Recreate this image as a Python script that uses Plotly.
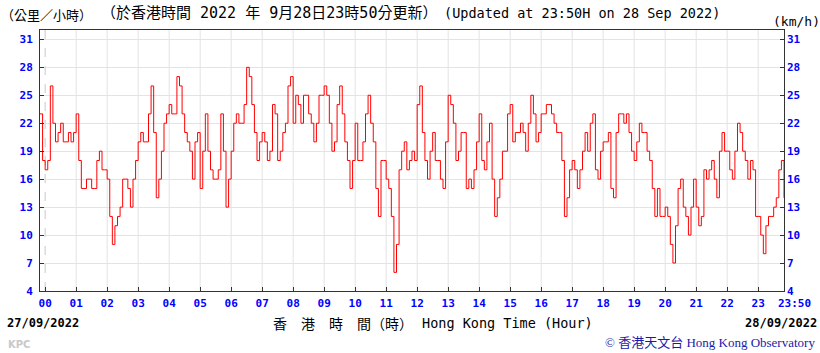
import plotly.graph_objects as go

# ---------------- data ----------------
hour_labels = [f"{h:02d}" for h in range(24)]
end_label = "23:50"
y_ticks = [4, 7, 10, 13, 16, 19, 22, 25, 28, 31]

start_min = -10   # 23:50 on 27/09/2022
step_min = 5

# 10-minute mean wind speed (km/h), sampled every 5 minutes
speed_prev = [23, 18]
speed_h00 = [17, 18, 26, 22, 20, 21, 22, 20, 20, 21, 20, 21]
speed_h01 = [23, 18, 15, 15, 16, 16, 15, 15, 18, 19, 17, 17]
speed_h02 = [16, 12, 9, 11, 12, 13, 16, 16, 15, 13, 16, 18]
speed_h03 = [20, 21, 20, 20, 23, 26, 21, 14, 16, 19, 22, 23]
speed_h04 = [24, 23, 23, 27, 26, 23, 21, 20, 19, 16, 20, 21]
speed_h05 = [15, 19, 23, 19, 17, 16, 16, 17, 23, 19, 13, 16]
speed_h06 = [19, 22, 23, 22, 22, 24, 28, 27, 24, 21, 18, 20]
speed_h07 = [21, 20, 18, 19, 24, 23, 18, 19, 21, 22, 26, 27]
speed_h08 = [22, 25, 24, 22, 25, 25, 23, 22, 20, 22, 25, 25]
speed_h09 = [26, 25, 22, 19, 20, 24, 26, 23, 20, 18, 15, 18]
speed_h10 = [22, 18, 18, 20, 23, 25, 22, 20, 15, 12, 18, 18]
speed_h11 = [16, 15, 12, 6, 9, 17, 19, 20, 17, 18, 19, 18]
speed_h12 = [24, 26, 21, 18, 16, 19, 21, 18, 18, 16, 15, 20]
speed_h13 = [25, 24, 22, 18, 19, 21, 21, 15, 16, 15, 17, 20]
speed_h14 = [23, 18, 17, 20, 22, 16, 12, 14, 16, 19, 19, 23]
speed_h15 = [24, 20, 21, 21, 22, 21, 19, 22, 25, 23, 20, 21]
speed_h16 = [23, 23, 24, 24, 23, 22, 21, 21, 18, 12, 14, 17]
speed_h17 = [18, 17, 15, 17, 19, 21, 19, 22, 23, 17, 16, 19]
speed_h18 = [20, 20, 21, 15, 14, 21, 23, 23, 22, 23, 21, 19]
speed_h19 = [18, 20, 22, 21, 21, 19, 18, 15, 12, 15, 12, 12]
speed_h20 = [13, 12, 9, 7, 11, 15, 16, 13, 12, 10, 13, 16]
speed_h21 = [13, 11, 12, 17, 16, 17, 18, 16, 14, 19, 21, 19]
speed_h22 = [19, 17, 16, 19, 22, 21, 19, 18, 16, 18, 17, 12]
speed_h23 = [12, 10, 8, 11, 12, 12, 13, 14, 17, 18, 14]

speeds = (speed_prev + speed_h00 + speed_h01 + speed_h02 + speed_h03 + speed_h04
          + speed_h05 + speed_h06 + speed_h07 + speed_h08 + speed_h09 + speed_h10
          + speed_h11 + speed_h12 + speed_h13 + speed_h14 + speed_h15 + speed_h16
          + speed_h17 + speed_h18 + speed_h19 + speed_h20 + speed_h21 + speed_h22
          + speed_h23)
times = [start_min + i * step_min for i in range(len(speeds))]
hour_ticks = [60 * h for h in range(24)]

# ---------------- layout ----------------
W, H = 820, 353
L, R, T, B = 40, 36, 30, 62
PW, PH = W - L - R, H - T - B

def pxx(x):
    return (x - L) / PW

def pxy(y):
    return (H - B - y) / PH

BLUE = "#0000ff"
GRID = "#e3e3e3"
FRAME = "#333333"
tick_font = dict(family="DejaVu Sans Mono", size=11, color=BLUE, weight="bold")

fig = go.Figure()
fig.add_trace(go.Scatter(x=times, y=speeds, mode="lines",
                         line=dict(color="#ff0000", width=1, shape="hv"),
                         hoverinfo="skip", showlegend=False))
fig.add_trace(go.Scatter(x=[times[0]], y=[speeds[0]], yaxis="y2", mode="markers",
                         marker=dict(opacity=0), hoverinfo="skip", showlegend=False))

shapes = []
for v in hour_ticks:
    shapes.append(dict(type="line", xref="x", yref="paper", x0=v, x1=v, y0=0, y1=1,
                       line=dict(color="#c8c8c8" if v == 0 else GRID, width=1,
                                 dash="dash" if v == 0 else "solid"),
                       layer="below"))

fig.update_layout(
    width=W, height=H,
    margin=dict(l=L, r=R, t=T, b=B, pad=0),
    paper_bgcolor="white", plot_bgcolor="white",
    showlegend=False,
    shapes=shapes,
    xaxis=dict(range=[start_min, times[-1]], tickmode="array", tickvals=hour_ticks,
               ticktext=hour_labels, ticks="inside", ticklen=4, tickcolor=FRAME,
               showline=True, linecolor=FRAME, linewidth=1, mirror=True,
               showgrid=False, zeroline=False, tickfont=tick_font,
               ticklabelstandoff=2, fixedrange=True),
    yaxis=dict(range=[4, 32], tickmode="array", tickvals=y_ticks, ticks="inside",
               ticklen=4, tickcolor=FRAME, showline=True, linecolor=FRAME,
               linewidth=1, mirror=True, showgrid=True, gridcolor=GRID,
               zeroline=False, tickfont=tick_font, ticklabelstandoff=4),
    yaxis2=dict(range=[4, 32], tickmode="array", tickvals=y_ticks, ticks="inside",
                ticklen=4, tickcolor=FRAME, overlaying="y", side="right",
                showgrid=False, zeroline=False, showline=False,
                tickfont=tick_font, ticklabelstandoff=2),
)

CJK = "Noto Sans CJK TC"
MONO = "DejaVu Sans Mono"

def note(text, x, y, anchor="left", font=None):
    fig.add_annotation(text=text, x=pxx(x), y=pxy(y), xref="paper", yref="paper",
                       xanchor=anchor, yanchor="middle", showarrow=False,
                       font=font, borderpad=0)

note("（公里／小時）", 0, 15, font=dict(family=CJK, size=13, color="black"))
note("（於香港時間 2022 年 9月28日23時50分更新）", 100, 13,
     font=dict(family=MONO + ", " + CJK, size=15, color="black"))
note("(Updated at 23:50H on 28 Sep 2022)", 443, 13,
     font=dict(family=MONO, size=13.5, color="black"))
note("(km/h)", 772, 22, font=dict(family=MONO, size=13, color="black"))
note(end_label, 777, 303, font=tick_font)
note("27/09/2022", 6, 323, font=dict(family=MONO, size=12, color="black", weight="bold"))
note("28/09/2022", 818, 323, anchor="right",
     font=dict(family=MONO, size=12, color="black", weight="bold"))
note("香\u3000港\u3000時\u3000間（時）", 272, 323, font=dict(family=CJK, size=14, color="black"))
note("Hong Kong Time (Hour)", 421, 323, font=dict(family=MONO, size=13.5, color="black"))
note("KPC", 7, 344, font=dict(family="DejaVu Sans", size=10, color="#c8c8c8", weight="bold"))
note("© 香港天文台 Hong Kong Observatory", 816, 342, anchor="right",
     font=dict(family="Liberation Serif, " + CJK, size=13, color="#1a1aa8"))

fig.write_html("out.html")
